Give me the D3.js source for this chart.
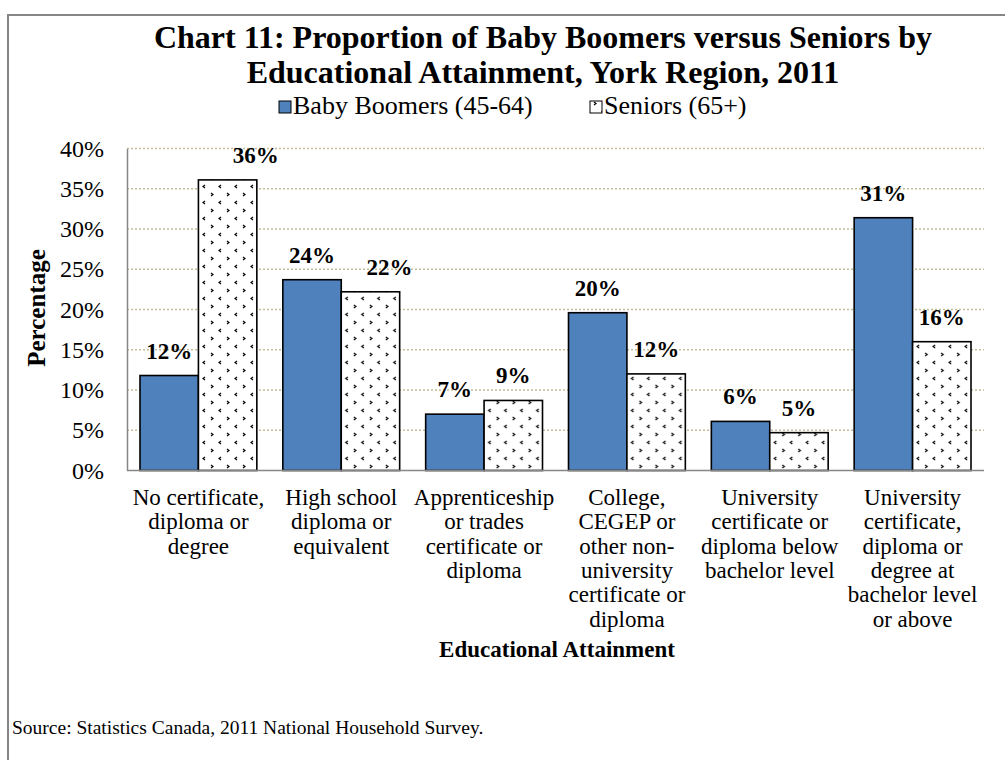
<!DOCTYPE html>
<html lang="en">
<head>
  <meta charset="UTF-8">
  <title>Chart 11: Proportion of Baby Boomers versus Seniors by Educational Attainment</title>
  <script src="https://d3js.org/d3.v7.min.js"></script>
  <style>
    body { margin: 0; background: #fff; }
    svg { display: block; font-family: "Liberation Serif", "Times New Roman", serif; }
  </style>
</head>
<body>
  <div id="chart"></div>

  <script>
    // data
    const categories = [
      "No certificate,\ndiploma or\ndegree",
      "High school\ndiploma or\nequivalent",
      "Apprenticeship\nor trades\ncertificate or\ndiploma",
      "College,\nCEGEP or\nother non-\nuniversity\ncertificate or\ndiploma",
      "University\ncertificate or\ndiploma below\nbachelor level",
      "University\ncertificate,\ndiploma or\ndegree at\nbachelor level\nor above"
    ];
    const seriesNames = ["Baby Boomers (45-64)", "Seniors (65+)"];
    const boomers = [11.8, 23.7, 7.0, 19.6, 6.1, 31.4];
    const seniors = [36.1, 22.2, 8.7, 12.0, 4.7, 16.0];
    const yTicks = [0, 5, 10, 15, 20, 25, 30, 35, 40];

    const W = 1005, H = 760;
    const plot = {left: 127, right: 984, top: 148.5, bottom: 470.5};

    const svg = d3.select("#chart").append("svg")
      .attr("width", W).attr("height", H);

    // pattern for seniors bars
    const defs = svg.append("defs");
    const pat = defs.append("pattern")
      .attr("id", "dots")
      .attr("patternUnits", "userSpaceOnUse")
      .attr("width", 16).attr("height", 16);
    pat.append("rect").attr("width", 16).attr("height", 16).attr("fill", "#fff");
    pat.append("path").attr("d", "M4,1 l2,1.5 l-2,1.5").attr("fill", "none").attr("stroke", "#000").attr("stroke-width", 1.2);
    pat.append("path").attr("d", "M14,9 l-2,1.5 l2,1.5").attr("fill", "none").attr("stroke", "#000").attr("stroke-width", 1.2);

    // outer frame
    svg.append("rect")
      .attr("x", 8).attr("y", 15)
      .attr("width", W).attr("height", H)
      .attr("fill", "none").attr("stroke", "#868686").attr("stroke-width", 2);

    const data = categories.map((c, i) => ({cat: c, values: [boomers[i], seniors[i]]}));

    const x0 = d3.scaleBand().domain(categories).range([plot.left, plot.right]).padding(0);
    const x1 = d3.scaleBand().domain(seriesNames).range([13, x0.bandwidth() - 13]).padding(0);
    const y = d3.scaleLinear().domain([0, 40]).range([plot.bottom, plot.top]);

    // gridlines
    svg.append("g")
      .selectAll("line")
      .data(yTicks.filter(d => d > 0))
      .enter().append("line")
      .attr("x1", plot.left).attr("x2", plot.right)
      .attr("y1", d => y(d)).attr("y2", d => y(d))
      .attr("stroke", "#C4BD97").attr("stroke-width", 1.5)
      .attr("stroke-dasharray", "2,2");

    // y axis
    const yAxis = svg.append("g")
      .attr("transform", `translate(${plot.left},0)`)
      .call(d3.axisLeft(y).tickValues(yTicks).tickSize(0).tickPadding(23).tickFormat(d => d + "%"));
    yAxis.select(".domain").attr("stroke", "#868686").attr("stroke-width", 1.5);
    yAxis.selectAll("text")
      .attr("fill", "#000")
      .style("font-family", "Liberation Serif, serif")
      .style("font-size", "24px");

    // bars
    const fills = ["#4F81BD", "url(#dots)"];
    const groups = svg.append("g").selectAll("g")
      .data(data).enter().append("g")
      .attr("transform", d => `translate(${x0(d.cat)},0)`);

    groups.selectAll("rect")
      .data(d => d.values.map((v, j) => ({series: seriesNames[j], v, j})))
      .enter().append("rect")
      .attr("x", d => x1(d.series))
      .attr("y", d => y(d.v))
      .attr("width", x1.bandwidth())
      .attr("height", d => y(0) - y(d.v))
      .attr("fill", d => fills[d.j])
      .attr("stroke", "#000")
      .attr("stroke-width", 1.6);

    // value labels (two are nudged right in the original)
    const nudge = {"0-1": 28, "1-1": 19};
    groups.each(function(d, i) {
      d3.select(this).selectAll("text.val")
        .data(d.values.map((v, j) => ({series: seriesNames[j], v, j, key: i + "-" + j})))
        .enter().append("text")
        .attr("class", "val")
        .attr("x", e => x1(e.series) + x1.bandwidth() / 2 + (nudge[e.key] || 0))
        .attr("y", e => y(e.v) - 17)
        .attr("text-anchor", "middle")
        .style("font-size", "23px")
        .style("font-weight", "bold")
        .text(e => d3.format(".0f")(e.v) + "%");
    });

    // x axis line
    svg.append("line")
      .attr("x1", plot.left).attr("x2", plot.right)
      .attr("y1", plot.bottom).attr("y2", plot.bottom)
      .attr("stroke", "#868686").attr("stroke-width", 1.5);

    // category labels
    const catText = svg.append("g").selectAll("text")
      .data(categories).enter().append("text")
      .attr("text-anchor", "middle")
      .style("font-size", "23px");
    catText.each(function(c) {
      const t = d3.select(this);
      c.split("\n").forEach((line, k) => {
        t.append("tspan")
          .attr("x", x0(c) + x0.bandwidth() / 2)
          .attr("y", 505 + k * 24.3)
          .text(line);
      });
    });

    // titles
    const title = svg.append("text")
      .attr("text-anchor", "middle")
      .style("font-size", "32px")
      .style("font-weight", "bold");
    title.append("tspan").attr("x", 543).attr("y", 48)
      .text("Chart 11: Proportion of Baby Boomers versus Seniors by");
    title.append("tspan").attr("x", 543).attr("y", 83)
      .text("Educational Attainment, York Region, 2011");

    svg.append("text")
      .attr("x", 557).attr("y", 657)
      .attr("text-anchor", "middle")
      .style("font-size", "23px").style("font-weight", "bold")
      .text("Educational Attainment");

    svg.append("text")
      .attr("transform", "translate(45,308) rotate(-90)")
      .attr("text-anchor", "middle")
      .style("font-size", "25px").style("font-weight", "bold")
      .text("Percentage");

    // legend
    const legend = svg.append("g").attr("transform", "translate(279,101)");
    const legX = [0, 311];
    seriesNames.forEach((s, j) => {
      const g = legend.append("g").attr("transform", `translate(${legX[j]},0)`);
      g.append("rect")
        .attr("width", 12).attr("height", 12)
        .attr("fill", fills[j])
        .attr("stroke", "#000").attr("stroke-width", 1);
      g.append("text")
        .attr("x", 14).attr("y", 13)
        .style("font-size", "26px")
        .text(s);
    });

    // source
    svg.append("text")
      .attr("x", 12).attr("y", 734)
      .style("font-size", "19.5px")
      .text("Source: Statistics Canada, 2011 National Household Survey.");
  </script>
</body>
</html>
